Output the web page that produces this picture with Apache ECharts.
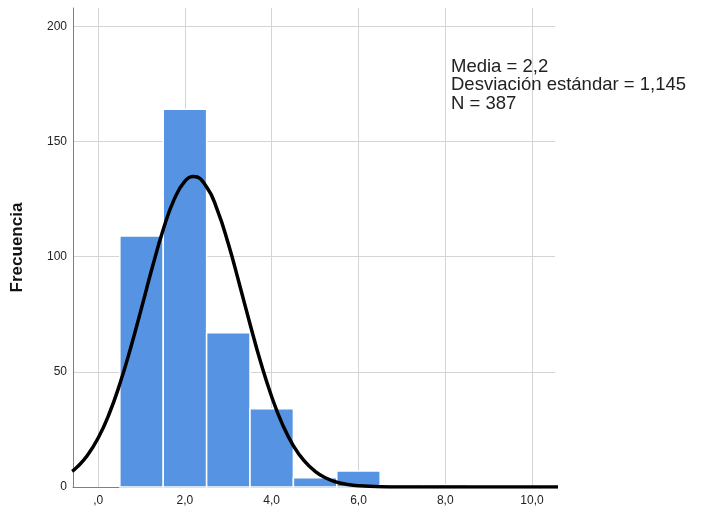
<!DOCTYPE html>
<html><head><meta charset="utf-8">
<script src="https://cdn.jsdelivr.net/npm/echarts@6/dist/echarts.min.js"></script>
<style>html,body{margin:0;padding:0;background:#fff}#c{width:704px;height:511px}</style>
</head><body><div id="c"></div>
<script>
// Histogram bins (centers) and frequencies
const binCenters = [1, 2, 3, 4, 5, 6, 7, 8];
const binCounts  = [109, 164, 67, 34, 4, 7, 1, 1];
// Normal curve
const curveX = [-0.6, -0.5, -0.25, 0, 0.25, 0.5, 0.75, 1.0, 1.25, 1.5, 1.75, 2.0, 2.2, 2.5, 2.75, 3.0, 3.25, 3.5, 3.75, 4.0, 4.25, 4.5, 4.75, 5.0, 5.25, 5.5, 5.75, 6.0, 6.5, 7.0, 8.0, 9.0, 10.0, 10.6];
const curveY = [6.8, 8.4, 13.7, 21.3, 31.6, 44.8, 60.5, 77.8, 95.5, 111.8, 124.8, 132.8, 134.8, 130.3, 120.1, 105.6, 88.5, 70.8, 53.9, 39.2, 27.1, 17.9, 11.3, 6.8, 3.9, 2.1, 1.1, 0.55, 0.12, 0.02, 0, 0, 0, 0];
// Stats
const statMean = '2,2';
const statSd = '1,145';
const statN = '387';
const yTicks = [0, 50, 100, 150, 200];
const xTicks = [0, 2, 4, 6, 8, 10];

const chart = echarts.init(document.getElementById('c'), null, {renderer: 'canvas'});
const fmtX = v => {
  if (!xTicks.some(t => Math.abs(t - v) < 1e-6)) return '';
  return v === 0 ? ',0' : v.toFixed(1).replace('.', ',');
};
const fmtY = v => yTicks.some(t => Math.abs(t - v) < 1e-6) ? String(v) : '';
const font = '"Liberation Sans", Arial, sans-serif';

chart.setOption({
  animation: false,
  backgroundColor: '#fff',
  grid: {left: 73, top: 8, right: 149, bottom: 24, containLabel: false},
  xAxis: {
    type: 'value', min: -0.58, max: 10.53, minInterval: 2, maxInterval: 2,
    axisLine: {show: true, onZero: false, lineStyle: {color: '#808080', width: 1}},
    axisTick: {show: false},
    axisLabel: {formatter: fmtX, color: '#222', fontSize: 12, fontFamily: font, margin: 8},
    splitLine: {show: true, showMinLine: false, showMaxLine: false, lineStyle: {color: '#d4d4d4', width: 1}}
  },
  yAxis: {
    type: 'value', min: 0, max: 208, interval: 50,
    name: 'Frecuencia', nameLocation: 'middle', nameGap: 47, nameRotate: 90,
    nameTextStyle: {fontSize: 17, fontWeight: 'bold', color: '#111', fontFamily: font},
    axisLine: {show: true, onZero: false, lineStyle: {color: '#808080', width: 1}},
    axisTick: {show: false},
    axisLabel: {formatter: fmtY, color: '#222', fontSize: 12, fontFamily: font, margin: 6},
    splitLine: {show: true, showMinLine: false, showMaxLine: false, lineStyle: {color: '#d4d4d4', width: 1}}
  },
  series: [
    {
      type: 'custom',
      data: binCenters.map((c, i) => [c, binCounts[i]]),
      renderItem: (params, api) => {
        const x = api.value(0), y = api.value(1);
        const p0 = api.coord([x - 0.5, y]);
        const p1 = api.coord([x + 0.5, 0]);
        return {
          type: 'rect',
          shape: {x: p0[0], y: p0[1], width: p1[0] - p0[0], height: p1[1] - p0[1]},
          style: {fill: '#5694e3', stroke: '#ffffff', lineWidth: 1.5}
        };
      },
      z: 2
    },
    {
      type: 'line',
      data: curveX.map((x, i) => [x, curveY[i]]),
      smooth: 0.5,
      showSymbol: false, symbol: 'none',
      lineStyle: {color: '#000', width: 3.5},
      clip: true,
      z: 3
    }
  ],
  graphic: [{
    type: 'text', left: 451, top: 57, z: 10,
    style: {
      text: 'Media = ' + statMean + '\nDesviación estándar = ' + statSd + '\nN = ' + statN,
      font: '18.5px ' + font, fill: '#222', lineHeight: 18.5
    }
  }]
});
</script></body></html>
